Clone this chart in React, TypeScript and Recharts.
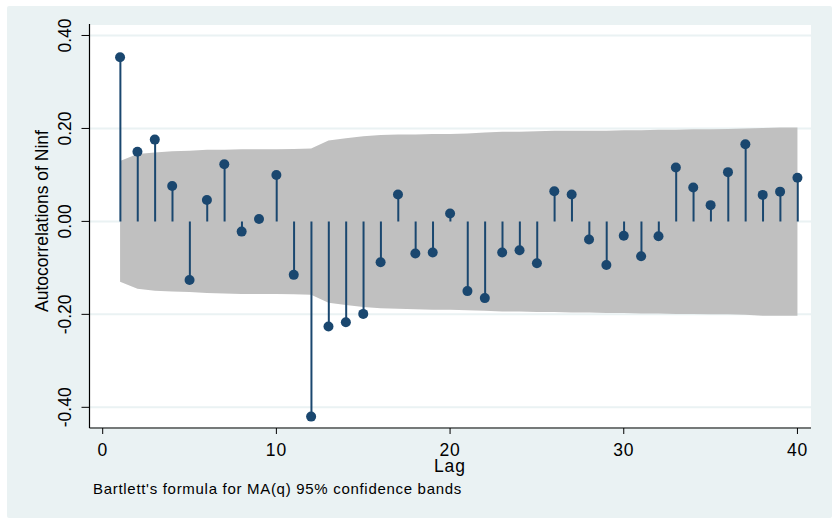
import React from 'react';
import { ComposedChart, XAxis, YAxis, CartesianGrid, Area, Bar, Line } from 'recharts';

const lags = [1,2,3,4,5,6,7,8,9,10,11,12,13,14,15,16,17,18,19,20,21,22,23,24,25,26,27,28,29,30,31,32,33,34,35,36,37,38,39,40];
const acf = [0.353,0.150,0.176,0.076,-0.126,0.046,0.123,-0.022,0.005,0.100,-0.115,-0.420,-0.226,-0.217,-0.199,-0.088,0.058,-0.069,-0.067,0.017,-0.150,-0.165,-0.067,-0.062,-0.090,0.065,0.058,-0.039,-0.094,-0.031,-0.075,-0.032,0.116,0.073,0.035,0.106,0.166,0.057,0.064,0.094];
const bandUpper = [0.130,0.145,0.148,0.151,0.152,0.154,0.154,0.155,0.155,0.155,0.156,0.157,0.174,0.179,0.183,0.186,0.187,0.187,0.188,0.188,0.189,0.191,0.193,0.193,0.194,0.195,0.195,0.195,0.195,0.196,0.196,0.197,0.197,0.198,0.198,0.199,0.200,0.201,0.202,0.202];
const bandLower = [-0.130,-0.145,-0.149,-0.151,-0.152,-0.154,-0.155,-0.156,-0.156,-0.156,-0.157,-0.158,-0.175,-0.180,-0.184,-0.187,-0.188,-0.189,-0.190,-0.190,-0.191,-0.192,-0.194,-0.194,-0.195,-0.195,-0.196,-0.196,-0.197,-0.197,-0.198,-0.198,-0.199,-0.199,-0.200,-0.200,-0.201,-0.203,-0.203,-0.203];
const xTicks = [0,10,20,30,40];
const yTicks = [-0.4,-0.2,0,0.2,0.4];

const NAVY = '#1A476F';
const BG = '#EAF2F3';
const FONT = '"Liberation Sans", Arial, sans-serif';

const data = lags.map((lag, i) => ({ lag, acf: acf[i], band: [bandLower[i], bandUpper[i]] }));

const YTick = (props: any) => {
  const { y, payload } = props;
  const x = 65;
  return (
    <text x={x} y={y} transform={`rotate(-90 ${x} ${y})`} textAnchor="middle" dominantBaseline="central"
      fontSize={17.5} fontFamily={FONT} fill="#000">{Number(payload.value).toFixed(2)}</text>
  );
};

const XTick = (props: any) => {
  const { x, payload } = props;
  return (
    <text x={x} y={456} textAnchor="middle" fontSize={17.5} fontFamily={FONT} fill="#000" letterSpacing={0.8}>{payload.value}</text>
  );
};

export default function App() {
  return (
    <div style={{ position: 'absolute', left: 0, top: 0, width: 839, height: 525, background: '#fff' }}>
      <div style={{ position: 'absolute', left: 7, top: 6, width: 825, height: 512, background: BG, borderRadius: 2 }} />
      <div style={{ position: 'absolute', left: 0, top: 0 }}>
        <ComposedChart width={839} height={525} data={data} margin={{ top: 24, right: 28, bottom: 57, left: 29.5 }}>
          <CartesianGrid vertical={false} horizontal={true} fill="#FFFFFF" fillOpacity={1} stroke={BG} strokeWidth={2} />
          <XAxis dataKey="lag" type="number" domain={[-0.76, 40.78]} ticks={xTicks} allowDataOverflow
            height={40} tickSize={6} stroke="#000" axisLine={{ stroke: '#000', strokeWidth: 1.2 }}
            tickLine={{ stroke: '#000' }} tick={<XTick />} interval={0} />
          <YAxis type="number" domain={[-0.4445, 0.4247]} ticks={yTicks} allowDataOverflow
            width={60} tickSize={8} stroke="#000" axisLine={{ stroke: '#000', strokeWidth: 1.2 }}
            tickLine={{ stroke: '#000' }} tick={<YTick />} interval={0} />
          <Area dataKey="band" type="linear" fill="#C0C0C0" fillOpacity={1} stroke="none" isAnimationActive={false} activeDot={false} />
          <Bar dataKey="acf" barSize={2} fill={NAVY} isAnimationActive={false} />
          <Line dataKey="acf" stroke="none" strokeWidth={0} isAnimationActive={false}
            dot={{ r: 5, fill: NAVY, stroke: 'none' }} activeDot={false} />
        </ComposedChart>
      </div>
      <svg width={839} height={525} style={{ position: 'absolute', left: 0, top: 0, pointerEvents: 'none' }}>
        <text x={42} y={221} transform="rotate(-90 42 221)" textAnchor="middle" dominantBaseline="central"
          fontSize={17.5} fontFamily={FONT} fill="#000">Autocorrelations of Ninf</text>
        <text x={450} y={472} textAnchor="middle" fontSize={17.5} fontFamily={FONT} fill="#000" letterSpacing={1}>Lag</text>
        <text x={93} y={494} fontSize={15} fontFamily={FONT} fill="#000" letterSpacing={0.7}>Bartlett's formula for MA(q) 95% confidence bands</text>
      </svg>
    </div>
  );
}
